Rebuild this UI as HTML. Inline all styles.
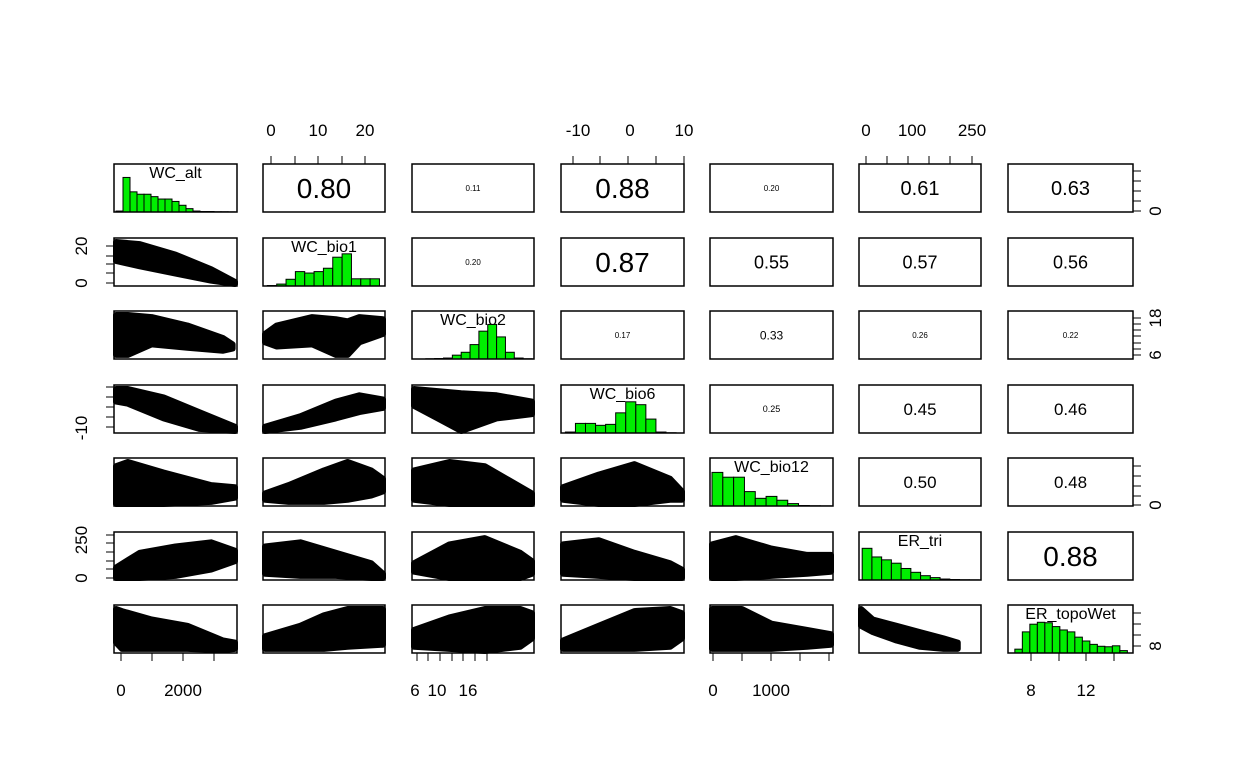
<!DOCTYPE html>
<html><head><meta charset="utf-8"><style>
body{margin:0;background:#fff}
svg{display:block;font-family:"Liberation Sans",Arial,sans-serif}
</style></head><body>
<svg id="chart" width="1248" height="768" viewBox="0 0 1248 768" xmlns="http://www.w3.org/2000/svg"></svg>
<script>
const varNames = ["WC_alt","WC_bio1","WC_bio2","WC_bio6","WC_bio12","ER_tri","ER_topoWet"];
const corrValues = [
 [null,0.80,0.11,0.88,0.20,0.61,0.63],
 [null,null,0.20,0.87,0.55,0.57,0.56],
 [null,null,null,0.17,0.33,0.26,0.22],
 [null,null,null,null,0.25,0.45,0.46],
 [null,null,null,null,null,0.50,0.48],
 [null,null,null,null,null,null,0.88]];
const corrFont = [
 [0,28,8,28,8,20,20],[0,0,8,28,18,18,18],[0,0,0,8,12,8,8],[0,0,0,0,9,17,17],[0,0,0,0,0,17,17],[0,0,0,0,0,0,28]];
const histAlt = [0.02,0.72,0.42,0.37,0.37,0.32,0.27,0.27,0.22,0.14,0.07,0.02,0.01,0.01,0.005,0.005,0.003];
const histBio1 = [0.01,0.04,0.14,0.30,0.27,0.30,0.37,0.60,0.67,0.15,0.15,0.15];
const histBio2 = [0.005,0.01,0.02,0.08,0.14,0.30,0.58,0.72,0.46,0.14,0.02,0.005];
const histBio6 = [0.02,0.2,0.2,0.16,0.18,0.42,0.65,0.59,0.29,0.02,0.005];
const histBio12 = [0.7,0.6,0.6,0.3,0.16,0.2,0.12,0.05,0.01,0.005,0.003];
const histTri = [0.66,0.48,0.42,0.35,0.24,0.16,0.09,0.05,0.02,0.01,0.005,0.003];
const histTopo = [0.08,0.44,0.6,0.64,0.63,0.55,0.48,0.44,0.33,0.25,0.18,0.14,0.13,0.15,0.05];
const hists = [histAlt,histBio1,histBio2,histBio6,histBio12,histTri,histTopo];
const histStart = [0,0.02,0.1,0.02,0,0.01,0.04];
const histEnd = [1,0.97,1,0.95,1,1,0.97];
const scatterEnv = {
 "1-0":[[0,0.55,1],[0.2,0.42,0.95],[0.5,0.25,0.7],[0.8,0.08,0.35],[1,0,0.05]],
 "2-0":[[0,0.05,1],[0.1,0.05,1],[0.3,0.3,0.95],[0.6,0.22,0.75],[0.9,0.15,0.45],[0.98,0.2,0.3]],
 "3-0":[[0,0.7,1],[0.1,0.65,1],[0.4,0.3,0.8],[0.7,0.05,0.45],[1,0,0.1]],
 "4-0":[[0,0,0.9],[0.1,0,1],[0.4,0,0.75],[0.8,0.05,0.45],[1,0.15,0.4]],
 "5-0":[[0,0,0.25],[0.2,0,0.6],[0.5,0.05,0.75],[0.8,0.2,0.85],[1,0.4,0.65]],
 "6-0":[[0,0.2,1],[0.05,0.05,0.95],[0.3,0.05,0.75],[0.6,0.05,0.6],[0.9,0.02,0.25],[1,0.05,0.2]],
 "2-1":[[0,0.35,0.55],[0.1,0.25,0.75],[0.4,0.3,0.95],[0.6,0.05,0.9],[0.7,0.05,0.85],[0.8,0.35,0.95],[1,0.55,0.9]],
 "3-1":[[0,0,0.1],[0.3,0.1,0.35],[0.6,0.3,0.7],[0.8,0.45,0.85],[1,0.55,0.75]],
 "4-1":[[0,0.1,0.25],[0.2,0.05,0.45],[0.5,0.05,0.8],[0.7,0.1,1],[0.9,0.2,0.8],[1,0.3,0.6]],
 "5-1":[[0,0.1,0.75],[0.3,0.05,0.85],[0.6,0.05,0.6],[0.9,0,0.35],[1,0,0.1]],
 "6-1":[[0,0.05,0.35],[0.3,0.05,0.6],[0.5,0.05,0.85],[0.7,0.1,1],[1,0.15,1]],
 "3-2":[[0,0.6,1],[0.2,0.3,0.95],[0.4,0,0.9],[0.7,0.3,0.85],[1,0.4,0.7]],
 "4-2":[[0,0.1,0.8],[0.3,0,1],[0.6,0,0.9],[1,0,0.25]],
 "5-2":[[0,0.15,0.35],[0.3,0,0.8],[0.6,0,0.95],[0.9,0,0.6],[1,0.1,0.4]],
 "6-2":[[0,0.1,0.5],[0.3,0.05,0.8],[0.6,0,1],[0.9,0.1,1],[1,0.3,0.9]],
 "4-3":[[0,0.1,0.4],[0.3,0,0.7],[0.6,0,0.95],[0.9,0.1,0.6],[1,0.1,0.3]],
 "5-3":[[0,0.1,0.8],[0.3,0.05,0.9],[0.6,0,0.6],[0.9,0,0.35],[1,0,0.2]],
 "6-3":[[0,0.05,0.25],[0.3,0.05,0.6],[0.6,0.05,0.95],[0.9,0.1,1],[1,0.3,0.9]],
 "5-4":[[0,0,0.8],[0.2,0,0.95],[0.5,0.05,0.7],[0.8,0.1,0.55],[1,0.15,0.55]],
 "6-4":[[0,0.05,1],[0.25,0.05,1],[0.5,0.05,0.65],[0.8,0.1,0.5],[1,0.15,0.4]],
 "6-5":[[0,0.6,1],[0.1,0.45,0.75],[0.3,0.25,0.6],[0.5,0.1,0.45],[0.7,0.05,0.3],[0.82,0.05,0.2]]
};
const colLeft=[114,263,412,561,710,859,1008], colW=[123,122,122,123,123,122,125];
const rowTop=[164,238,311,385,458,532,605], rowH=48;
const topAxes=[{c:1,ticks:[271,295,318,342,365],labels:[["0",271],["10",318],["20",365]]},
 {c:3,ticks:[573,600,628,656,684],labels:[["-10",578],["0",630],["10",684]]},
 {c:5,ticks:[866,887,908,929,950,972],labels:[["0",866],["100",912],["250",972]]}];
const bottomAxes=[{c:0,ticks:[121,152,183,214],labels:[["0",121],["2000",183]]},
 {c:2,ticks:[417,428,440,452,463,475,487],labels:[["6",415],["10",437],["16",468]]},
 {c:4,ticks:[713,742,771,800,829],labels:[["0",713],["1000",771]]},
 {c:6,ticks:[1031,1059,1086,1114],labels:[["8",1031],["12",1086]]}];
const leftAxes=[{r:1,ticks:[246,256,264,273,283],labels:[["0",283],["20",246]]},
 {r:3,ticks:[387,397,407,417,427],labels:[["-10",428]]},
 {r:5,ticks:[535,543,552,561,569,578],labels:[["0",578],["250",540]]}];
const rightAxes=[{r:0,ticks:[171,181,191,201,211],labels:[["0",211]]},
 {r:2,ticks:[318,324,330,336,343,349,355],labels:[["6",355],["18",318]]},
 {r:4,ticks:[466,476,486,496,505],labels:[["0",505]]},
 {r:6,ticks:[613,624,635,646],labels:[["8",646]]}];

const svg=document.getElementById('chart');const NS="http://www.w3.org/2000/svg";
function mk(t,a,p){const e=document.createElementNS(NS,t);for(const k in a)e.setAttribute(k,a[k]);(p||svg).appendChild(e);return e;}
function px(c,f){return colLeft[c]+2+f*(colW[c]-4);}
function py(r,f){return rowTop[r]+rowH-2-f*(rowH-6);}
for(let r=0;r<7;r++)for(let c=0;c<7;c++){
 const g=mk('g',{});
 
 
 if(r===c){
  const h=hists[r],n=h.length,s=histStart[r],e=histEnd[r],w=(e-s)/n;
  h.forEach((v,i)=>{const x0=px(c,s+i*w),x1=px(c,s+(i+1)*w),y=rowTop[r]+rowH-v*rowH;
   const b=mk('rect',{x:x0,y:y,width:x1-x0,height:rowTop[r]+rowH-y,fill:'#00ee00',stroke:'#000','stroke-width':1},g);
   
   });
  const t=mk('text',{x:colLeft[c]+colW[c]/2,y:rowTop[r]+14,'text-anchor':'middle','font-size':16},g);t.textContent=varNames[r];
  
  
 } else if(c>r){
  const v=corrValues[r][c];const t=mk('text',{x:colLeft[c]+colW[c]/2,y:rowTop[r]+rowH/2+corrFont[r][c]*0.36,'text-anchor':'middle','font-size':corrFont[r][c]},g);
  t.textContent=v.toFixed(2);
  
  
 } else {
  const env=scatterEnv[r+'-'+c];let d='M';
  env.forEach((p,i)=>{d+=(i?'L':'')+px(c,p[0])+','+py(r,p[2]);});
  env.slice().reverse().forEach(p=>{d+='L'+px(c,p[0])+','+py(r,p[1]);});
  const p=mk('path',{d:d+'Z',fill:'#000',stroke:'#000','stroke-width':6,'stroke-linejoin':'round'},g);
  
  
 }
 const bx=mk('rect',{x:colLeft[c],y:rowTop[r],width:colW[c],height:rowH,fill:'none',stroke:'#000','stroke-width':1.5},g);
 
 
}
topAxes.forEach(a=>{const y=rowTop[0];a.ticks.forEach(t=>mk('line',{x1:t,x2:t,y1:y,y2:y-8,stroke:'#000'}));
 a.labels.forEach(l=>{const t=mk('text',{x:l[1],y:y-28,'text-anchor':'middle','font-size':17});t.textContent=l[0];
 });});
bottomAxes.forEach(a=>{const y=rowTop[6]+rowH;a.ticks.forEach(t=>mk('line',{x1:t,x2:t,y1:y,y2:y+8,stroke:'#000'}));
 a.labels.forEach(l=>{const t=mk('text',{x:l[1],y:y+43,'text-anchor':'middle','font-size':17});t.textContent=l[0];
 });});
leftAxes.forEach(a=>{const x=colLeft[0];a.ticks.forEach(t=>mk('line',{x1:x,x2:x-8,y1:t,y2:t,stroke:'#000'}));
 a.labels.forEach(l=>{const t=mk('text',{x:0,y:0,'text-anchor':'middle','font-size':17,transform:`translate(${x-27},${l[1]}) rotate(-90)`});t.textContent=l[0];
 });});
rightAxes.forEach(a=>{const x=colLeft[6]+colW[6];a.ticks.forEach(t=>mk('line',{x1:x,x2:x+8,y1:t,y2:t,stroke:'#000'}));
 a.labels.forEach(l=>{const t=mk('text',{x:0,y:0,'text-anchor':'middle','font-size':17,transform:`translate(${x+28},${l[1]}) rotate(-90)`});t.textContent=l[0];
 });});
</script>
</body></html>
